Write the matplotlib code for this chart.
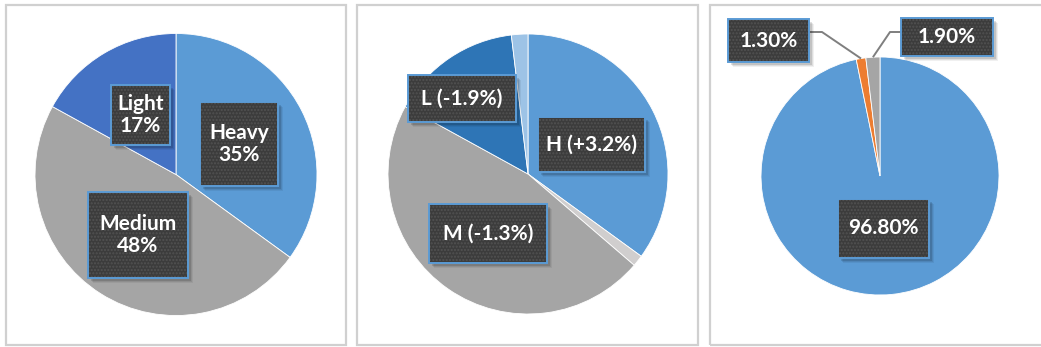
import numpy as np
import matplotlib
matplotlib.use("Agg")
import matplotlib.pyplot as plt
from matplotlib.patches import Rectangle

# ---- data -------------------------------------------------------------
categories = ["Heavy", "Medium", "Light"]
shares = [35, 48, 17]                 # % of total
short_names = ["H", "M", "L"]
changes = [3.2, -1.3, -1.9]           # percentage-point shift
split_labels = ["96.80%", "1.30%", "1.90%"]
split_values = [96.8, 1.3, 1.9]

W, H = 1041, 347
plt.rcParams["hatch.linewidth"] = 1.0

fig = plt.figure(figsize=(W / 100, H / 100), dpi=100)
ax = fig.add_axes([0, 0, 1, 1])


def Y(y):
    return H - y


FONT = dict(family=["Lato", "DejaVu Sans"], weight="bold", color="white")


def label_box(x0, y0, x1, y1, text, size=15):
    w, h = x1 - x0, y1 - y0
    # soft drop shadow
    for k, a in [(4.5, 0.06), (3.5, 0.08), (2.5, 0.12)]:
        ax.add_patch(Rectangle((x0 + k, Y(y1) - k), w, h, facecolor="black",
                               edgecolor="none", alpha=a, zorder=5))
    ax.add_patch(Rectangle((x0, Y(y1)), w, h, facecolor="#3C3C3C",
                           edgecolor="none", zorder=6))
    ax.add_patch(Rectangle((x0, Y(y1)), w, h, facecolor="none",
                           edgecolor="#525252", linewidth=0, hatch=".....",
                           zorder=7))
    ax.add_patch(Rectangle((x0, Y(y1)), w, h, facecolor="none",
                           edgecolor="#5B9BD5", linewidth=1.4, zorder=8))
    ax.text((x0 + x1) / 2, Y((y0 + y1) / 2), text, ha="center", va="center",
            fontsize=size, linespacing=1.15, zorder=9, **FONT)


# ---- panel frames -----------------------------------------------------
for x0, x1 in [(6, 346), (357, 698), (710, 1045)]:
    ax.add_patch(Rectangle((x0, Y(345)), x1 - x0, 340, facecolor="none",
                           edgecolor="#D0D0D0", linewidth=1.6, zorder=1))

wedge_style = dict(edgecolor="white", linewidth=0.6)

# ---- panel 1: current mix ---------------------------------------------
ax.pie(shares, colors=["#5B9BD5", "#A5A5A5", "#4472C4"], startangle=90,
       counterclock=False, center=(176, Y(174.5)), radius=141,
       wedgeprops=wedge_style, frame=True)

label_box(111, 85, 170, 145, f"{categories[2]}\n{shares[2]}%")
label_box(200, 102, 278, 186, f"{categories[0]}\n{shares[0]}%")
label_box(88, 192, 188, 278, f"{categories[1]}\n{shares[1]}%")

# ---- panel 2: mix with the shifted slices split out ---------------------
shift_vals = [shares[0], -changes[1], shares[1] + changes[1],
              shares[2] + changes[2], -changes[2]]
ax.pie(shift_vals,
       colors=["#5B9BD5", "#D0CECE", "#A5A5A5", "#2E75B6", "#9DC3E6"],
       startangle=90, counterclock=False, center=(528, Y(174)), radius=140,
       wedgeprops=wedge_style, frame=True)


def fmt(name, d):
    return f"{name} ({d:+.1f}%)"


label_box(408, 75, 516, 122, fmt(short_names[2], changes[2]))
label_box(538, 117, 645, 172, fmt(short_names[0], changes[0]))
label_box(429, 204, 547, 263, fmt(short_names[1], changes[1]))

# ---- panel 3: unchanged vs. shifted -----------------------------------
c3 = (880, 176)
r3 = 119
ax.pie(split_values, colors=["#5B9BD5", "#ED7D31", "#A5A5A5"], startangle=90,
       counterclock=False, center=(c3[0], Y(c3[1])), radius=r3,
       wedgeprops=wedge_style, frame=True)

# leader lines to the two thin slices
cum = np.cumsum([0] + split_values)
total = cum[-1]
for i, (bx, elbow) in zip([1, 2], [(809, 822), (901, 890)]):
    mid = (cum[i] + cum[i + 1]) / 2 / total * 2 * np.pi
    px = c3[0] + r3 * np.sin(mid)
    py = c3[1] - r3 * np.cos(mid)
    ax.plot([bx, elbow, px], [Y(32), Y(32), Y(py)], color="#7F7F7F",
            linewidth=1.4, zorder=4, solid_capstyle="butt")

label_box(728, 19, 809, 62, split_labels[1])
label_box(901, 18, 993, 56, split_labels[2])
label_box(838, 199, 929, 258, split_labels[0])

ax.set_xlim(0, W)
ax.set_ylim(0, H)
ax.set_aspect("auto")
ax.axis("off")

fig.savefig("out.png", dpi=100, facecolor="white")
